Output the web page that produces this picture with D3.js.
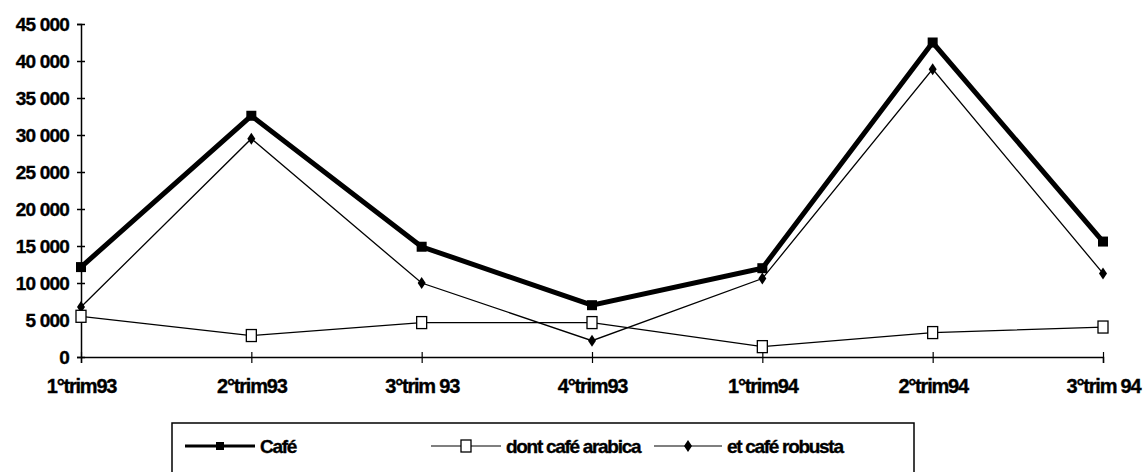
<!DOCTYPE html>
<html>
<head>
<meta charset="utf-8">
<script src="https://cdn.jsdelivr.net/npm/d3@7"></script>
<style>
  html, body { margin: 0; padding: 0; background: #fff; }
  svg { display: block; }
  text { font-family: "Liberation Sans", Arial, sans-serif; font-weight: bold; fill: #000; }
</style>
</head>
<body>
<svg id="chart" width="1146" height="472"></svg>
<script>
// Quarterly coffee figures
const quarters = ["1°trim93", "2°trim93", "3°trim 93", "4°trim93", "1°trim94", "2°trim94", "3°trim 94"];
const cafe     = [12150, 32600, 14900, 7000, 12000, 42500, 15600];
const arabica  = [5500, 2900, 4650, 4650, 1400, 3300, 4050];
const robusta  = [6750, 29500, 10000, 2200, 10600, 38900, 11300];
const yTicks   = [0, 5000, 10000, 15000, 20000, 25000, 30000, 35000, 40000, 45000];
const seriesNames = ["Café", "dont café arabica", "et café robusta"];

const svg = d3.select("#chart");
const margin = { left: 81, right: 43, top: 24, bottom: 115 };
const W = 1146, H = 472;

const x = d3.scalePoint().domain(quarters).range([margin.left, W - margin.right]);
const y = d3.scaleLinear().domain([0, 45000]).range([H - margin.bottom, margin.top]);

const fmt = v => d3.format(",")(v).replace(/,/g, " ");

function styleText(sel, size, spacing) {
  sel.attr("font-size", size).attr("letter-spacing", spacing)
    .attr("stroke", "#000").attr("stroke-width", 0.35)
    .style("font-family", "'Liberation Sans', Arial, sans-serif").style("font-weight", "bold");
}

// Y axis
const yAxis = svg.append("g")
  .attr("transform", `translate(${margin.left},0)`)
  .call(d3.axisLeft(y).tickValues(yTicks).tickFormat(fmt).tickSizeOuter(0).tickSize(4).tickPadding(8));
yAxis.select(".domain").attr("stroke", "#000").attr("stroke-width", 1.5);
yAxis.selectAll(".tick line").attr("stroke", "#000").attr("stroke-width", 1.5).attr("x2", 4).attr("x1", -4);
styleText(yAxis.selectAll(".tick text"), 19, "-0.8px");

// X axis
const xAxis = svg.append("g")
  .attr("transform", `translate(0,${y(0)})`)
  .call(d3.axisBottom(x).tickSizeOuter(0).tickSize(6).tickPadding(16));
xAxis.select(".domain").attr("stroke", "#000").attr("stroke-width", 1.5);
xAxis.selectAll(".tick line").attr("stroke", "#000").attr("stroke-width", 1.2).attr("y1", -5).attr("y2", 6);
styleText(xAxis.selectAll(".tick text"), 20, "-1.2px");

const line = d3.line().x((d, i) => x(quarters[i])).y(d => y(d));

// Series lines
svg.append("path").datum(robusta).attr("d", line).attr("fill", "none").attr("stroke", "#000").attr("stroke-width", 1.3);
svg.append("path").datum(arabica).attr("d", line).attr("fill", "none").attr("stroke", "#000").attr("stroke-width", 1.3);
svg.append("path").datum(cafe).attr("d", line).attr("fill", "none").attr("stroke", "#000").attr("stroke-width", 5).attr("stroke-linejoin", "miter");

// Markers
function squareMarker(g, cx, cy, filled) {
  g.append("rect").attr("x", cx - 5).attr("y", cy - 6).attr("width", 10).attr("height", 12)
    .attr("fill", filled ? "#000" : "#fff").attr("stroke", "#000").attr("stroke-width", 1.3);
}
function diamondMarker(g, cx, cy) {
  g.append("path").attr("d", `M${cx},${cy - 6}L${cx + 4},${cy}L${cx},${cy + 6}L${cx - 4},${cy}Z`).attr("fill", "#000");
}
const mk = svg.append("g");
robusta.forEach((v, i) => diamondMarker(mk, x(quarters[i]), y(v)));
arabica.forEach((v, i) => squareMarker(mk, x(quarters[i]), y(v), false));
cafe.forEach((v, i) => {
  mk.append("rect").attr("x", x(quarters[i]) - 5).attr("y", y(v) - 5).attr("width", 10).attr("height", 10).attr("fill", "#000");
});

// Legend
const lg = svg.append("g");
lg.append("rect").attr("x", 172).attr("y", 423).attr("width", 742).attr("height", 80)
  .attr("fill", "none").attr("stroke", "#000").attr("stroke-width", 1.5);
const items = [
  { name: seriesNames[0], x0: 185, w: 70, type: "cafe" },
  { name: seriesNames[1], x0: 431, w: 70, type: "arabica" },
  { name: seriesNames[2], x0: 654, w: 68, type: "robusta" }
];
const ly = 446;
items.forEach(it => {
  const cx = it.x0 + it.w / 2;
  lg.append("line").attr("x1", it.x0).attr("x2", it.x0 + it.w).attr("y1", ly).attr("y2", ly)
    .attr("stroke", "#000").attr("stroke-width", it.type === "cafe" ? 3 : 1.2);
  if (it.type === "cafe") lg.append("rect").attr("x", cx - 4).attr("y", ly - 4).attr("width", 8).attr("height", 8).attr("fill", "#000");
  if (it.type === "arabica") squareMarker(lg, cx, ly, false);
  if (it.type === "robusta") diamondMarker(lg, cx, ly);
  const t = lg.append("text").attr("x", it.x0 + it.w + 5).attr("y", ly).attr("dy", "0.35em").text(it.name);
  styleText(t, 19, "-1.3px");
});
</script>
</body>
</html>
